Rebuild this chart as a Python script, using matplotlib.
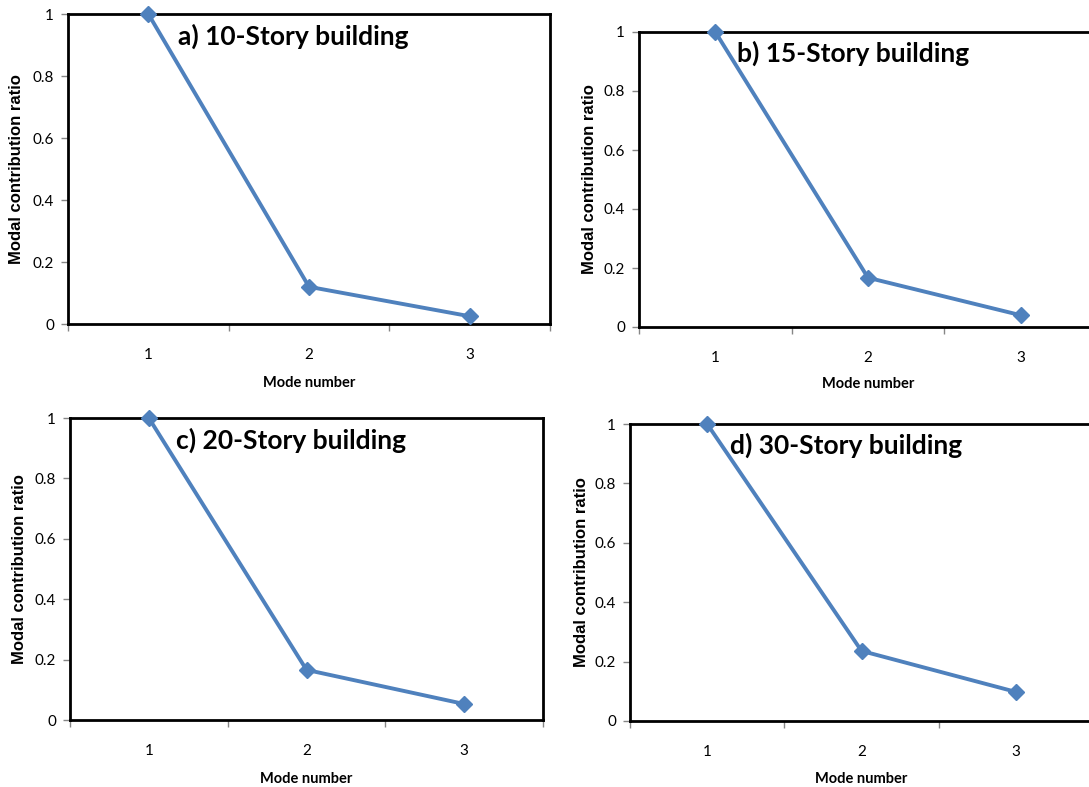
import matplotlib
matplotlib.use("Agg")
import matplotlib.pyplot as plt
from matplotlib.ticker import FixedLocator

modes = [1, 2, 3]
ratio_10 = [1.0, 0.12, 0.025]
ratio_15 = [1.0, 0.167, 0.04]
ratio_20 = [1.0, 0.166, 0.053]
ratio_30 = [1.0, 0.236, 0.098]
titles = ["a) 10-Story building", "b) 15-Story building",
          "c) 20-Story building", "d) 30-Story building"]
yticks = [0, 0.2, 0.4, 0.6, 0.8, 1]
ytick_labels = ["0", "0.2", "0.4", "0.6", "0.8", "1"]

blue = "#4F81BD"
grey = "#868686"
W, H = 1089, 787

# plot boxes in pixels: left, top, right, bottom
boxes = [
    (68, 14, 550, 324),
    (639, 32, 1097, 327),
    (70, 418, 543, 720),
    (630, 424, 1093, 721),
]
ylab_x = [17, 589, 20, 582]
xlab_y = [383, 384, 779, 779]
series = [ratio_10, ratio_15, ratio_20, ratio_30]

fig = plt.figure(figsize=(W / 100, H / 100), dpi=100)

for i, (l, t, r, b) in enumerate(boxes):
    ax = fig.add_axes([l / W, (H - b) / H, (r - l) / W, (b - t) / H])
    ax.plot(modes, series[i], color=blue, lw=2.8, marker="D", ms=8,
            mec=blue, mfc=blue, clip_on=False, zorder=5)
    ax.set_xlim(0.5, 3.5)
    ax.set_ylim(0, 1)

    ax.set_yticks(yticks)
    ax.set_yticklabels(ytick_labels, fontfamily="Lato", fontsize=11)
    ax.set_xticks(modes)
    ax.set_xticklabels([str(m) for m in modes], fontfamily="Lato", fontsize=11)
    ax.xaxis.set_minor_locator(FixedLocator([0.5, 1.5, 2.5, 3.5]))
    ax.tick_params(axis="x", which="major", length=0, pad=17)
    ax.tick_params(axis="x", which="minor", length=5, width=1, color=grey)
    ax.tick_params(axis="y", length=5, width=1, color=grey, pad=5)

    for s in ax.spines.values():
        s.set_color("black")
        s.set_linewidth(2)

    ax.text(0.467, 0.927, titles[i], transform=ax.transAxes, ha="center",
            va="center", fontfamily="Lato", fontweight="bold", fontsize=19)

    ax.set_ylabel("Modal contribution ratio", fontfamily="Liberation Sans",
                  fontweight="bold", fontsize=12)
    ax.yaxis.set_label_coords((ylab_x[i] - l) / (r - l), 0.5)
    ax.yaxis.label.set_va("center")
    ax.set_xlabel("Mode number", fontfamily="Lato", fontweight="bold", fontsize=10.5)
    ax.xaxis.set_label_coords(0.5, (b - xlab_y[i]) / (b - t))
    ax.xaxis.label.set_va("center")

fig.savefig("out.png", dpi=100)
